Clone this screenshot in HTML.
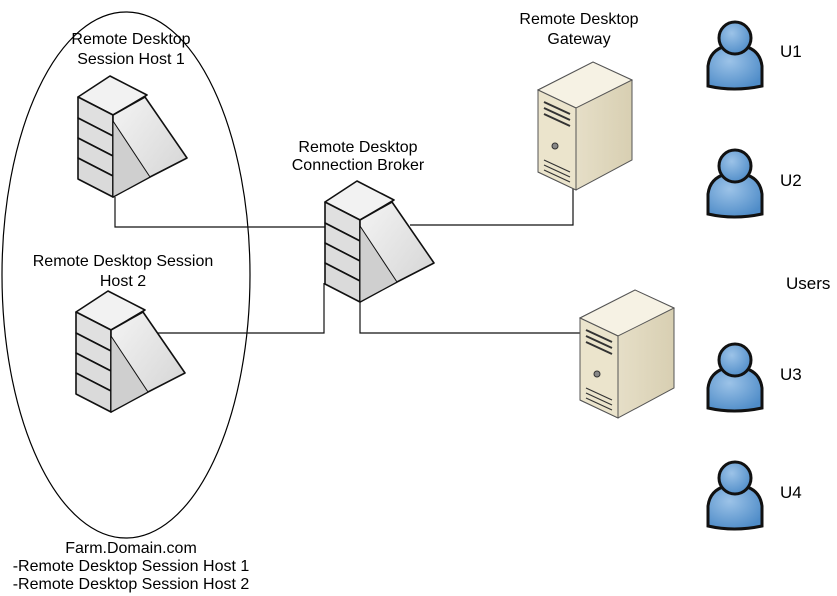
<!DOCTYPE html>
<html><head><meta charset="utf-8"><style>
html,body{margin:0;padding:0;background:#fff;}
svg{display:block;}
text{font-family:"Liberation Sans",Arial,sans-serif;font-size:16px;fill:#000;}
text.big{font-size:17px;}
</style></head><body>
<svg width="837" height="596" viewBox="0 0 837 596" xmlns="http://www.w3.org/2000/svg">
<defs>
<linearGradient id="gw" x1="0" y1="0" x2="1" y2="1"><stop offset="0" stop-color="#f4f4f4"/><stop offset="1" stop-color="#d2d2d2"/></linearGradient>
<linearGradient id="tw" x1="0" y1="0" x2="1" y2="0"><stop offset="0" stop-color="#efe9d6"/><stop offset="1" stop-color="#d8cfb2"/></linearGradient>
<radialGradient id="ub" cx="0.4" cy="0.35" r="0.7"><stop offset="0" stop-color="#9cc3e8"/><stop offset="1" stop-color="#4f8cc8"/></radialGradient>
<g id="blade" stroke="#111" stroke-width="1.6" stroke-linejoin="round">
  <polygon points="0,21 32,0 69,19 35,39" fill="#f2f2f2"/>
  <polygon points="0,21 35,39 35,60 0,42" fill="#e0e0e0"/>
  <polygon points="0,42 35,60 35,80 0,62" fill="#dedede"/>
  <polygon points="0,62 35,80 35,100 0,82" fill="#dcdcdc"/>
  <polygon points="0,82 35,100 35,121 0,103" fill="#dadada"/>
  <polygon points="35,39 67,21 109,82 72,101 35,121" fill="url(#gw)"/>
  <polygon points="35,45 72,101 35,121" fill="#cfcfcf" stroke-width="1"/>
</g>
<g id="tower">
  <polygon points="0,28 55,0 94,18 94,98 38,128 0,110" fill="url(#tw)" stroke="#555" stroke-width="1"/>
  <polygon points="0,28 55,0 94,18 38,46" fill="#f6f2e4" stroke="#555" stroke-width="1"/>
  <polygon points="0,28 38,46 38,128 0,110" fill="#ebe4cc" stroke="#555" stroke-width="1"/>
  <path d="M6,40 L32,52 M6,46 L32,58 M6,52 L32,64" stroke="#333" stroke-width="2"/>
  <circle cx="17" cy="84" r="3" fill="#888" stroke="#333"/>
  <path d="M6,98 L32,110 M6,103 L32,115 M6,108 L32,120" stroke="#333" stroke-width="1.2"/>
</g>
<g id="user" stroke="#111" stroke-width="3">
  <path d="M2,68 L2,48 Q4,32 20,28 L38,28 Q54,32 56,48 L56,68 Q28,74 2,68 Z" fill="url(#ub)"/>
  <circle cx="29" cy="20" r="16" fill="url(#ub)"/>
</g>
</defs>
<ellipse cx="126" cy="275" rx="124" ry="263" fill="none" stroke="#000" stroke-width="1.2"/>
<g fill="none" stroke="#111" stroke-width="1.2">
  <polyline points="115,197 115,227 325,227"/>
  <polyline points="150,333 324,333 324,283"/>
  <polyline points="410,225 573,225 573,188"/>
  <polyline points="360,300 360,333 585,333"/>
</g>
<use href="#blade" x="78" y="76"/>
<use href="#blade" x="76" y="291"/>
<use href="#blade" x="325" y="181"/>
<use href="#tower" x="538" y="62"/>
<use href="#tower" x="580" y="290"/>
<use href="#user" x="706" y="18"/>
<use href="#user" x="706" y="146"/>
<use href="#user" x="706" y="340"/>
<use href="#user" x="706" y="458"/>
<text x="131" y="44" text-anchor="middle">Remote Desktop</text>
<text x="131" y="64" text-anchor="middle">Session Host 1</text>
<text x="123" y="266" text-anchor="middle">Remote Desktop Session</text>
<text x="123" y="286" text-anchor="middle">Host 2</text>
<text x="358" y="152" text-anchor="middle">Remote Desktop</text>
<text x="358" y="170" text-anchor="middle">Connection Broker</text>
<text x="579" y="24" text-anchor="middle">Remote Desktop</text>
<text x="579" y="44" text-anchor="middle">Gateway</text>
<text class="big" x="780" y="57">U1</text>
<text class="big" x="780" y="186">U2</text>
<text class="big" x="786" y="289">Users</text>
<text class="big" x="780" y="380">U3</text>
<text class="big" x="780" y="498">U4</text>
<text x="131" y="553" text-anchor="middle">Farm.Domain.com</text>
<text x="131" y="571" text-anchor="middle">-Remote Desktop Session Host 1</text>
<text x="131" y="589" text-anchor="middle">-Remote Desktop Session Host 2</text>
</svg>
</body></html>
